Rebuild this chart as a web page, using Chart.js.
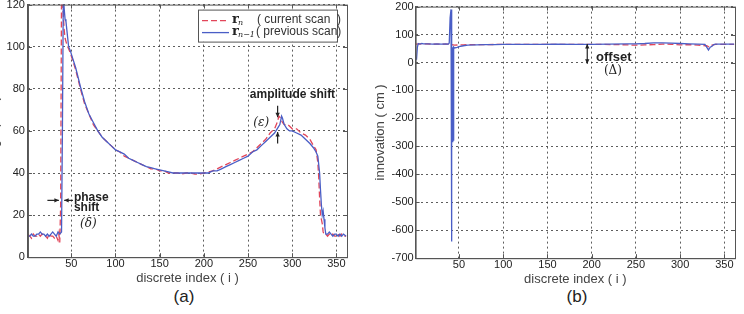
<!DOCTYPE html>
<html>
<head>
<meta charset="utf-8">
<script src="https://cdn.jsdelivr.net/npm/chart.js@4/dist/chart.umd.min.js"></script>
<style>
body{margin:0;width:744px;height:314px;overflow:hidden;background:#fff;position:relative;font-family:"Liberation Sans",Arial,sans-serif}
canvas{position:absolute}
#cA{left:-13px;top:-5px}
#cB{left:373px;top:-2px}
.cap{position:absolute;top:287px;font-size:17px;color:#222;transform:translateX(-50%)}
</style>
</head>
<body>
<canvas id="cA" width="372" height="291"></canvas>
<canvas id="cB" width="371" height="289"></canvas>
<div class="cap" style="left:184px">(a)</div>
<div class="cap" style="left:577px">(b)</div>
<script>
// ---- data ----
const xTicks = [50, 100, 150, 200, 250, 300, 350];

// (a) previous scan r_{n-1}
const prevIdx = [1,3,5,7,9,11,13,15,17,19,21,23,25,27,29,31,33,35,37,39,40,41,42,43,44,45,46,47,49,52,55,58,61,65,70,75,80,85,90,95,100,105,110,115,120,125,130,135,140,145,150,155,160,165,170,175,180,185,190,195,200,205,210,215,220,225,230,235,240,245,250,255,260,265,270,275,280,283,286,288,289,291,294,297,300,305,310,315,320,324,327,329,331,332,333,334,335,336,337,338,340,342,344,346,348,350,352,354,356,358,361];
const prevRange = [10,10,11,10,10,11,11,12,11,11,10,11,10,11,12,11,10,12,11,12,60,125,118,113,112,108,104,100,98,94,90,85,80,74,68,64,60,57,55,53,51,50,49,47,46,45,44,43,42.5,42,41.5,41,40.5,40,40,40,40,40,40,40,40,40,41,41,42,43,44,45,46,47,48,50,51,53,55,57,59,61,63,67,66,63,61,60,60,59,58,56,54,52,50,48,40,32,25,20,22,18,14,11,11,12,11,10,11,11,10,11,10,11,10];

// (a) current scan r_n
const currIdx = [1,3,5,7,9,11,13,15,17,19,21,23,25,27,29,31,33,35,36,37,38,39,40,41,42,43,45,47,49,52,55,58,61,65,70,75,80,85,90,95,100,105,110,115,120,125,130,135,140,145,150,155,160,165,170,175,180,185,190,195,200,205,210,215,220,225,230,235,240,245,250,255,260,265,270,275,280,283,285,287,289,291,295,300,305,310,315,320,324,327,329,330,331,332,334,335,336,338,340,342,344,346,348,350,352,354,356,358,361];
const currRange = [11,10,9,11,10,10,11,10,11,10,10,9,11,10,10,9,10,8,11,7,25,128,124,115,108,104,101,99,97,93,89,84,79,73,68,63,60,57,55,53,51,50,48,47,46,45,44,43,42,42,41,41,40,40,40,39.5,40,40,39.5,39.5,40,40.5,41,42,43,44,45,46,47,48,49,50,52,54,56,59,61,64,67,66,64,63,63,61,61,59,58,56,53,51,45,38,28,20,16,12,11,11,10,11,10,11,10,10,11,10,11,10,10];

// (b) innovation
const innovIdx = [2,3,4,6,8,10,15,20,25,30,35,38,39,40,41,41,42,42,42,43,43,43,44,44,45,48,50,55,60,70,80,90,100,120,140,160,180,200,220,240,250,260,270,280,290,300,310,320,328,330,332,334,336,338,340,350,361];
const innovPrev = [10,55,68,66,68,67,67,66,67,66,67,66,70,160,190,-20,-640,50,-290,55,-285,50,-280,55,52,54,57,60,62,63,64,64,65,65,65,66,65,65,66,67,67,68,70,70,69,68,67,66,65,55,45,55,58,64,66,66,66];
const innovCurrIdx = [1,10,20,30,38,45,50,55,60,80,100,150,200,230,240,250,260,270,280,290,300,310,320,330,333,336,340,361];
const innovCurr = [66,67,66,66,66,62,63,63,64,64,65,65,65,64,63,62,63,64,66,65,63,64,62,60,55,62,65,65];

const RED = '#e2465a';
const BLUE = '#4a5ec6';

function pts(xs, ys) { return xs.map((x, i) => ({ x: x, y: ys[i] })); }

function arrow(ctx, x1, y1, x2, y2) {
  const a = Math.atan2(y2 - y1, x2 - x1);
  ctx.beginPath(); ctx.moveTo(x1, y1); ctx.lineTo(x2, y2); ctx.stroke();
  ctx.beginPath();
  ctx.moveTo(x2, y2);
  ctx.lineTo(x2 - 5 * Math.cos(a - 0.45), y2 - 5 * Math.sin(a - 0.45));
  ctx.lineTo(x2 - 5 * Math.cos(a + 0.45), y2 - 5 * Math.sin(a + 0.45));
  ctx.closePath(); ctx.fill();
}

// matlab-like box + inner tick marks
const frame = {
  id: 'frame',
  afterDatasetsDraw(chart) {
    const ctx = chart.ctx, a = chart.chartArea;
    const sx = chart.scales.x, sy = chart.scales.y;
    ctx.save();
    ctx.strokeStyle = '#555'; ctx.lineWidth = 1; ctx.setLineDash([]);
    ctx.strokeRect(a.left + 0.5, a.top + 0.5, a.right - a.left, a.bottom - a.top);
    ctx.beginPath();
    sx.ticks.forEach(t => {
      const p = Math.round(sx.getPixelForValue(t.value)) + 0.5;
      ctx.moveTo(p, a.bottom); ctx.lineTo(p, a.bottom - 4);
      ctx.moveTo(p, a.top); ctx.lineTo(p, a.top + 4);
    });
    sy.ticks.forEach(t => {
      const p = Math.round(sy.getPixelForValue(t.value)) + 0.5;
      ctx.moveTo(a.left, p); ctx.lineTo(a.left + 4, p);
      ctx.moveTo(a.right, p); ctx.lineTo(a.right - 4, p);
    });
    ctx.stroke();
    ctx.restore();
  }
};

const notesA = {
  id: 'notesA',
  afterDraw(chart) {
    const ctx = chart.ctx, a = chart.chartArea;
    const X = v => chart.scales.x.getPixelForValue(v);
    const Y = v => chart.scales.y.getPixelForValue(v);
    ctx.save();
    ctx.fillStyle = '#222'; ctx.strokeStyle = '#222'; ctx.lineWidth = 1.2;
    // phase shift
    arrow(ctx, X(23), Y(27), X(36), Y(27));
    arrow(ctx, X(52), Y(27), X(42), Y(27));
    ctx.font = 'bold 12px "Liberation Sans"';
    ctx.textBaseline = 'middle'; ctx.textAlign = 'left';
    ctx.fillText('phase', X(53), Y(28.5));
    ctx.fillText('shift', X(53), Y(23.3));
    ctx.font = 'italic 12px "DejaVu Serif"';
    ctx.fillText('(δ)', X(60), Y(16));
    // amplitude shift
    ctx.font = 'bold 12px "Liberation Sans"';
    ctx.fillText('amplitude shift', X(252), Y(77));
    arrow(ctx, X(283.5), Y(72), X(283.5), Y(66.5));
    arrow(ctx, X(283.5), Y(54), X(283.5), Y(59.5));
    ctx.font = 'italic 12px "DejaVu Serif"';
    ctx.fillText('(ε)', X(256), Y(64));

    // legend box
    const bx = a.right - 149, by = a.top + 5, bw = 139, bh = 32;
    ctx.fillStyle = '#fff'; ctx.fillRect(bx, by, bw, bh);
    ctx.strokeStyle = '#555'; ctx.lineWidth = 1;
    ctx.strokeRect(bx + 0.5, by + 0.5, bw, bh);
    ctx.lineWidth = 1.3;
    ctx.strokeStyle = RED; ctx.setLineDash([6, 3]);
    ctx.beginPath(); ctx.moveTo(bx + 4, by + 11); ctx.lineTo(bx + 31, by + 11); ctx.stroke();
    ctx.strokeStyle = BLUE; ctx.setLineDash([]);
    ctx.beginPath(); ctx.moveTo(bx + 4, by + 23); ctx.lineTo(bx + 31, by + 23); ctx.stroke();
    ctx.fillStyle = '#222';
    ctx.font = 'bold 13px "DejaVu Serif"';
    ctx.fillText('r', bx + 34, by + 10);
    ctx.fillText('r', bx + 34, by + 22);
    ctx.font = 'italic 8px "DejaVu Serif"';
    ctx.fillText('n', bx + 40, by + 13);
    ctx.fillText('n−1', bx + 40, by + 25);
    ctx.font = '12px "Liberation Sans"';
    ctx.fillStyle = '#333';
    ctx.fillText('( current scan  )', bx + 59, by + 10);
    ctx.fillText('( previous scan)', bx + 58, by + 22);
    ctx.restore();
  }
};

const notesB = {
  id: 'notesB',
  afterDraw(chart) {
    const ctx = chart.ctx;
    const X = v => chart.scales.x.getPixelForValue(v);
    const Y = v => chart.scales.y.getPixelForValue(v);
    ctx.save();
    ctx.fillStyle = '#222'; ctx.strokeStyle = '#222'; ctx.lineWidth = 1.2;
    arrow(ctx, X(195), Y(30), X(195), Y(66));
    arrow(ctx, X(195), Y(30), X(195), Y(-4));
    ctx.font = 'bold 13px "Liberation Sans"';
    ctx.textBaseline = 'middle'; ctx.textAlign = 'left';
    ctx.fillText('offset', X(205), Y(17));
    ctx.font = '12px "DejaVu Serif"';
    ctx.textAlign = 'center';
    ctx.fillText('(Δ)', X(224), Y(-29));
    ctx.restore();
  }
};

function axes(yMin, yMax, yStep, yTitle, yPad) {
  const grid = { color: '#333', lineWidth: 0.8, drawTicks: false };
  return {
    x: {
      type: 'linear', min: 1, max: 362,
      afterBuildTicks: s => { s.ticks = xTicks.map(v => ({ value: v })); },
      grid: Object.assign({}, grid),
      border: { color: '#555', dash: [2, 3] },
      ticks: { color: '#222', font: { size: 11, family: 'Liberation Sans' }, padding: 0, maxRotation: 0 },
      title: { display: true, text: 'discrete index ( i )', color: '#444', font: { size: 13, family: 'Liberation Sans' }, padding: { top: 0, bottom: 0 } }
    },
    y: {
      min: yMin, max: yMax,
      grid: Object.assign({}, grid),
      border: { color: '#555', dash: [2, 3] },
      ticks: { stepSize: yStep, color: '#222', font: { size: 11, family: 'Liberation Sans' }, padding: yPad },
      title: { display: true, text: yTitle, color: '#444', font: { size: 13, family: 'Liberation Sans' }, padding: { top: 0, bottom: 1 } }
    }
  };
}

function lineSet(data, color, dashed, order) {
  return {
    data: data, borderColor: color, borderWidth: 1.3,
    borderDash: dashed ? [6, 3] : [], pointRadius: 0, tension: 0, fill: false, order: order
  };
}

const common = {
  responsive: false, animation: false,
  plugins: { legend: { display: false }, tooltip: { enabled: false } }
};

new Chart(document.getElementById('cA').getContext('2d'), {
  type: 'line',
  data: {
    datasets: [
      lineSet(pts(currIdx, currRange), RED, true, 2),
      lineSet(pts(prevIdx, prevRange), BLUE, false, 1)
    ]
  },
  options: Object.assign({}, common, {
    layout: { padding: { top: 0, right: 12, bottom: 0, left: 0 } },
    scales: axes(0, 120, 20, 'range ( cm )', 3)
  }),
  plugins: [frame, notesA]
});

new Chart(document.getElementById('cB').getContext('2d'), {
  type: 'line',
  data: {
    datasets: [
      lineSet(pts(innovCurrIdx, innovCurr), RED, true, 2),
      lineSet(pts(innovIdx, innovPrev), BLUE, false, 1)
    ]
  },
  options: Object.assign({}, common, {
    layout: { padding: { top: 0, right: 9, bottom: 0, left: 0 } },
    scales: axes(-700, 200, 100, 'innovation ( cm )', 2)
  }),
  plugins: [frame, notesB]
});
</script>
</body>
</html>
